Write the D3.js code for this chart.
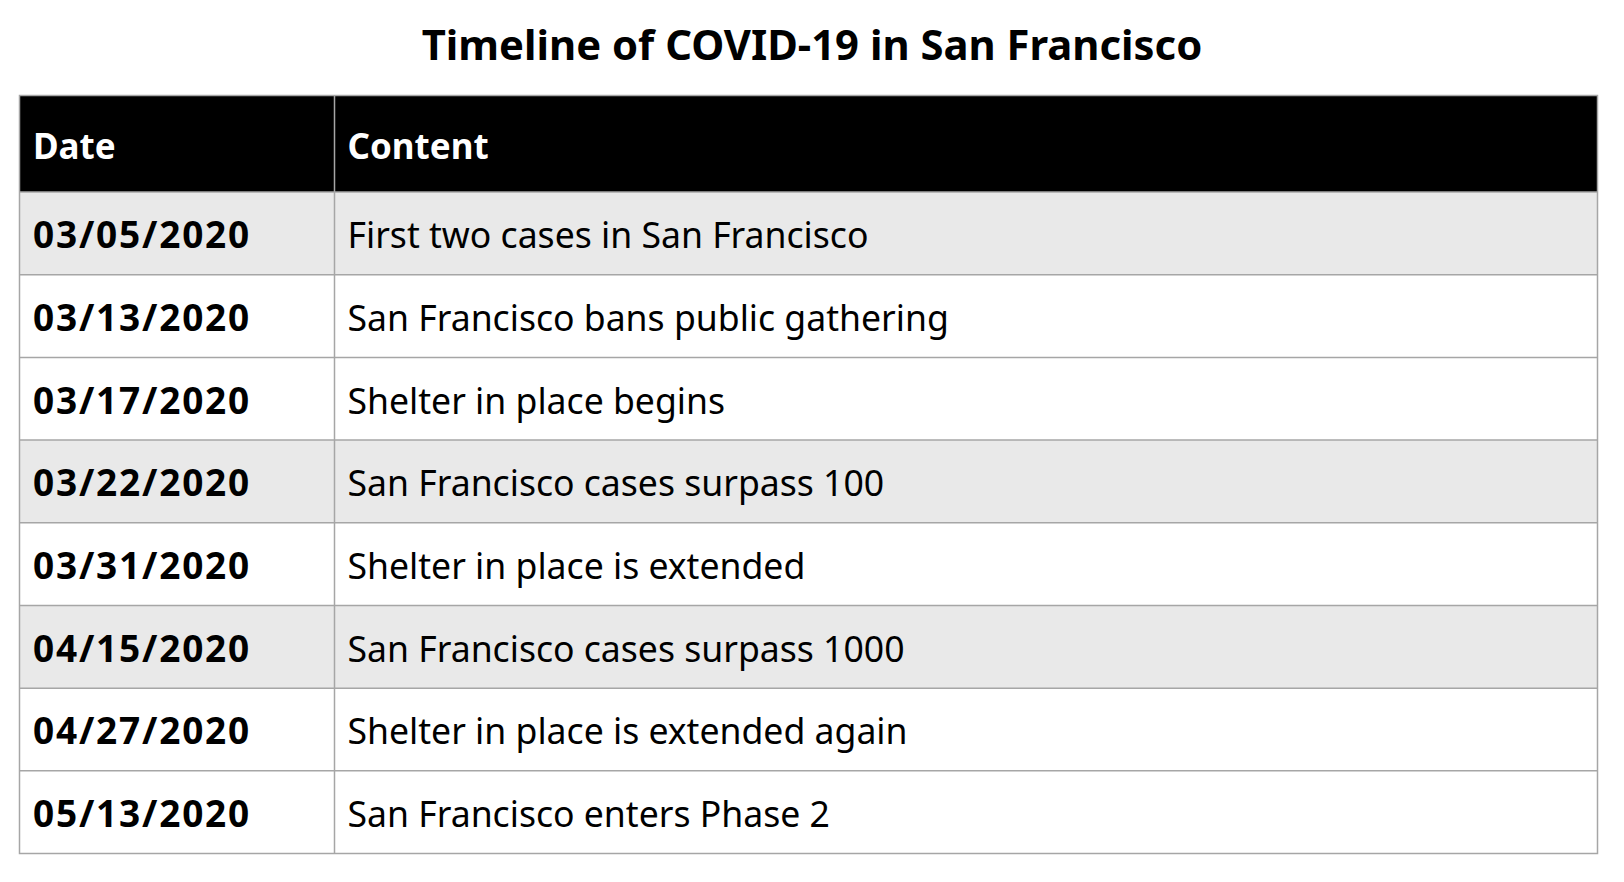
<!DOCTYPE html>
<html>
<head>
<meta charset="utf-8">
<script src="https://cdn.jsdelivr.net/npm/d3@7"></script>
<style>
  html, body { margin: 0; padding: 0; background: #fff; }
  text { font-family: "Noto Sans", sans-serif; }
</style>
</head>
<body>
<script>
var title = "Timeline of COVID-19 in San Francisco";
var columns = ["Date", "Content"];
var dates = ["03/05/2020", "03/13/2020", "03/17/2020", "03/22/2020",
             "03/31/2020", "04/15/2020", "04/27/2020", "05/13/2020"];
var contents = ["First two cases in San Francisco",
                "San Francisco bans public gathering",
                "Shelter in place begins",
                "San Francisco cases surpass 100",
                "Shelter in place is extended",
                "San Francisco cases surpass 1000",
                "Shelter in place is extended again",
                "San Francisco enters Phase 2"];
var shaded = [true, false, false, true, false, true, false, false];

var width = 1624, height = 882;
var left = 19.5, right = 1597.5, divider = 334.5;
var tableTop = 95.5, headBottom = 192, bottom = 853.5;

var svg = d3.select("body").append("svg")
    .attr("width", width)
    .attr("height", height);

var rows = dates.map((d, i) => ({date: d, content: contents[i], shade: shaded[i]}));

var y = d3.scaleBand()
    .domain(d3.range(rows.length))
    .range([headBottom, bottom]);

svg.append("text")
    .attr("x", width / 2)
    .attr("y", 60)
    .attr("text-anchor", "middle")
    .style("font-size", "41.8px")
    .style("font-weight", "bold")
    .text(title);

// header
svg.append("rect")
    .attr("x", left).attr("y", tableTop)
    .attr("width", right - left).attr("height", headBottom - tableTop)
    .attr("fill", "#000");

var colX = [left + 13.5, divider + 13];
svg.selectAll("text.head")
    .data(columns)
    .join("text")
    .attr("class", "head")
    .attr("x", (d, i) => colX[i])
    .attr("y", 159)
    .attr("fill", "#fff")
    .style("font-size", "35px")
    .style("font-weight", "bold")
    .text(d => d);

// body rows
var g = svg.selectAll("g.row")
    .data(rows)
    .join("g")
    .attr("class", "row")
    .attr("transform", (d, i) => `translate(0,${y(i)})`);

g.append("rect")
    .attr("x", left)
    .attr("width", right - left)
    .attr("height", y.bandwidth())
    .attr("fill", d => d.shade ? "#e9e9e9" : "#fff");

g.append("text")
    .attr("x", colX[0])
    .attr("y", y.bandwidth() / 2 + 15)
    .style("font-size", "37px")
    .style("font-weight", "bold")
    .style("letter-spacing", "1.8px")
    .text(d => d.date);

g.append("text")
    .attr("x", colX[1])
    .attr("y", y.bandwidth() / 2 + 15)
    .style("font-size", "35.6px")
    .text(d => d.content);

// grid lines
var lines = svg.append("g")
    .attr("stroke", "#a6a6a6")
    .attr("stroke-width", 1.5)
    .attr("fill", "none");

lines.selectAll("line.h")
    .data(d3.range(1, rows.length))
    .join("line")
    .attr("class", "h")
    .attr("x1", left).attr("x2", right)
    .attr("y1", i => y(i)).attr("y2", i => y(i));

lines.append("line")
    .attr("x1", left).attr("x2", right)
    .attr("y1", headBottom).attr("y2", headBottom);

lines.append("line")
    .attr("x1", divider).attr("x2", divider)
    .attr("y1", tableTop).attr("y2", bottom);

lines.append("rect")
    .attr("x", left).attr("y", tableTop)
    .attr("width", right - left).attr("height", bottom - tableTop);
</script>
</body>
</html>
